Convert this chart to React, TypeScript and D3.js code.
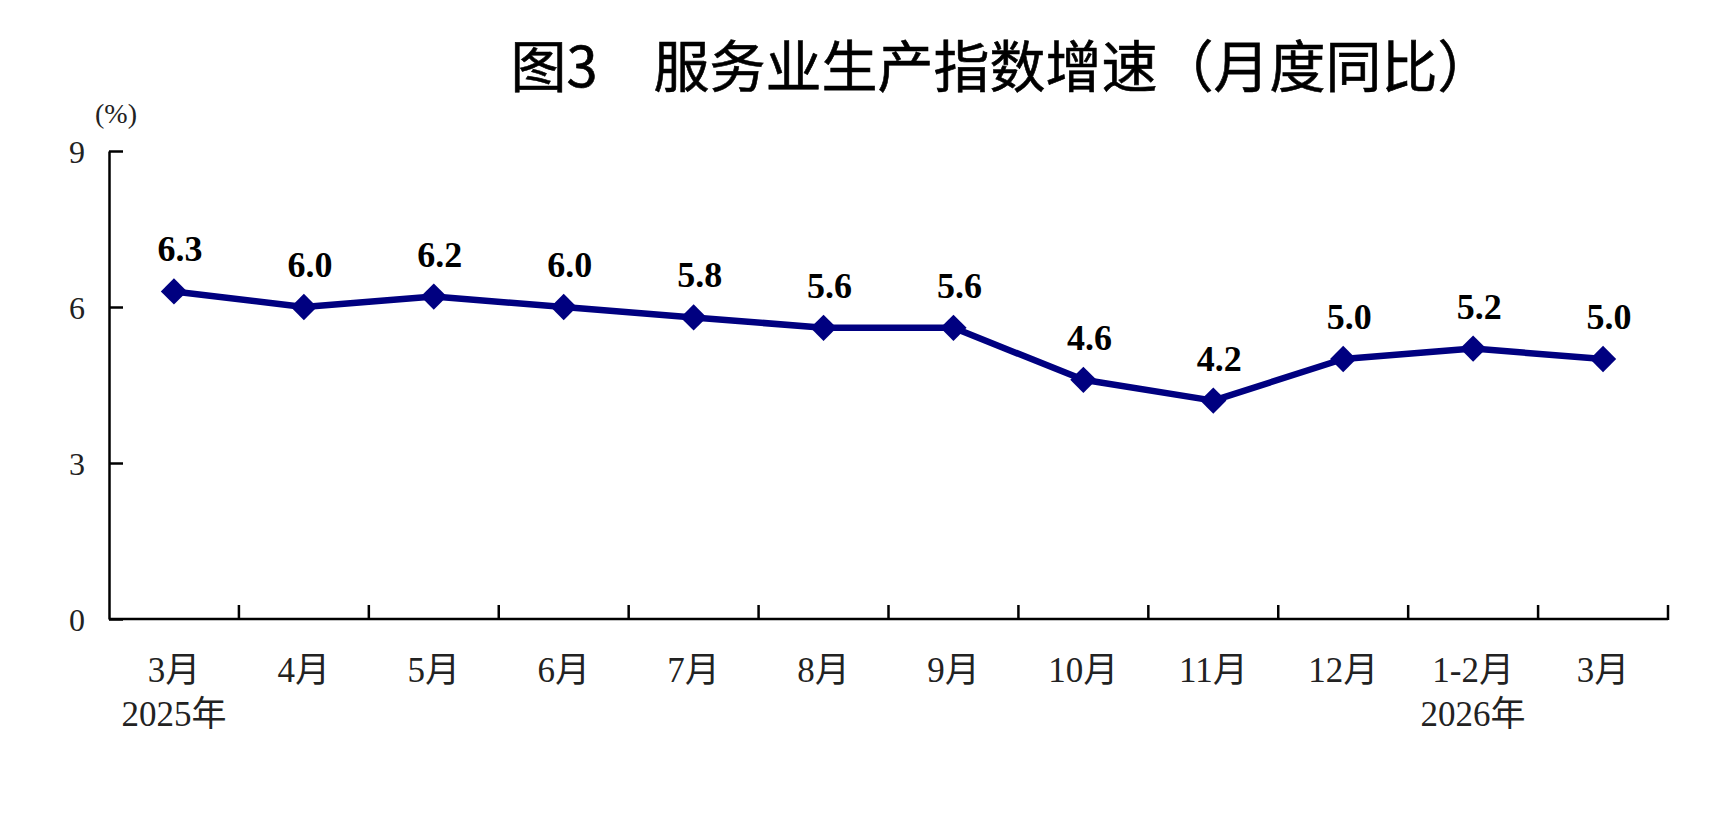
import { useEffect, useRef } from "react";
import * as d3 from "d3";

// 服务业生产指数增速（月度同比），%
const months = ["3月", "4月", "5月", "6月", "7月", "8月", "9月", "10月", "11月", "12月", "1-2月", "3月"];
const growth = [6.3, 6.0, 6.2, 6.0, 5.8, 5.6, 5.6, 4.6, 4.2, 5.0, 5.2, 5.0];
const yearIndex = [0, 10];
const yearLabels = ["2025年", "2026年"];
const yTicks = [0, 3, 6, 9];

const W = 1716;
const H = 832;
const serif = "'Liberation Serif', 'Times New Roman', 'Noto Sans CJK SC', serif";

export default function App() {
  const chartRef = useRef<SVGSVGElement>(null);

  useEffect(() => {
    const margin = { top: 151, right: 48, bottom: 213, left: 109 };
    const x0 = margin.left;
    const x1 = W - margin.right;
    const y0 = H - margin.bottom;

    const svg = d3.select(chartRef.current);
    svg.selectAll("*").remove();

    const x = d3.scaleBand<number>().domain(d3.range(months.length)).range([x0, x1]).padding(0);
    const y = d3.scaleLinear().domain([0, 9]).range([y0, margin.top]);

    // title
    svg
      .append("text")
      .attr("x", 1002)
      .attr("y", 87)
      .attr("text-anchor", "middle")
      .attr("font-family", "'Noto Sans CJK SC', sans-serif")
      .attr("font-size", 56)
      .attr("fill", "#000")
      .attr("stroke", "#000")
      .attr("stroke-width", 0.6)
      .text("图3　服务业生产指数增速（月度同比）");

    // unit
    svg
      .append("text")
      .attr("x", 116)
      .attr("y", 123)
      .attr("text-anchor", "middle")
      .attr("font-family", serif)
      .attr("font-size", 28)
      .attr("fill", "#222")
      .text("(%)");

    // y axis
    const yAxis = svg
      .append("g")
      .attr("transform", `translate(${x0},0)`)
      .call(d3.axisLeft(y).tickValues(yTicks).tickSizeInner(-14).tickSizeOuter(0).tickPadding(24));
    yAxis.select(".domain").attr("stroke", "#000").attr("stroke-width", 2.5);
    yAxis.selectAll(".tick line").attr("stroke", "#000").attr("stroke-width", 2.5);
    yAxis
      .selectAll(".tick text")
      .attr("font-family", serif)
      .attr("font-size", 32)
      .attr("fill", "#222")
      .attr("dy", "0.35em");

    // x axis line and ticks at band edges
    svg
      .append("line")
      .attr("x1", x0)
      .attr("x2", x1)
      .attr("y1", y0)
      .attr("y2", y0)
      .attr("stroke", "#000")
      .attr("stroke-width", 2.5);
    svg
      .append("g")
      .selectAll("line")
      .data(d3.range(1, months.length + 1))
      .enter()
      .append("line")
      .attr("x1", (i) => x0 + i * x.bandwidth())
      .attr("x2", (i) => x0 + i * x.bandwidth())
      .attr("y1", y0 + 1)
      .attr("y2", y0 - 14)
      .attr("stroke", "#000")
      .attr("stroke-width", 2.5);

    // category labels
    svg
      .append("g")
      .selectAll("text")
      .data(months)
      .enter()
      .append("text")
      .attr("x", (d, i) => (x(i) ?? 0) + x.bandwidth() / 2)
      .attr("y", y0 + 63)
      .attr("text-anchor", "middle")
      .attr("font-family", serif)
      .attr("font-size", 35)
      .attr("fill", "#222")
      .text((d) => d);

    svg
      .append("g")
      .selectAll("text")
      .data(yearLabels)
      .enter()
      .append("text")
      .attr("x", (d, i) => (x(yearIndex[i]) ?? 0) + x.bandwidth() / 2)
      .attr("y", y0 + 107)
      .attr("text-anchor", "middle")
      .attr("font-family", serif)
      .attr("font-size", 35)
      .attr("fill", "#222")
      .text((d) => d);

    // line
    const cx = (i: number) => (x(i) ?? 0) + x.bandwidth() / 2;
    const line = d3
      .line<number>()
      .x((d, i) => cx(i))
      .y((d) => y(d));

    svg
      .append("path")
      .datum(growth)
      .attr("d", line)
      .attr("fill", "none")
      .attr("stroke", "#000080")
      .attr("stroke-width", 6.5)
      .attr("stroke-linejoin", "round");

    // diamond markers
    const diamond = d3.symbol().type(d3.symbolDiamond2).size(440);
    svg
      .append("g")
      .selectAll("path")
      .data(growth)
      .enter()
      .append("path")
      .attr("d", diamond)
      .attr("transform", (d, i) => `translate(${cx(i)},${y(d)})`)
      .attr("fill", "#000080");

    // value labels
    svg
      .append("g")
      .selectAll("text")
      .data(growth)
      .enter()
      .append("text")
      .attr("x", (d, i) => cx(i) + 6)
      .attr("y", (d) => y(d) - 30)
      .attr("text-anchor", "middle")
      .attr("font-family", serif)
      .attr("font-weight", "bold")
      .attr("font-size", 36)
      .attr("fill", "#000")
      .text((d) => d.toFixed(1));
  }, []);

  return (
    <svg
      ref={chartRef}
      width={W}
      height={H}
      style={{ position: "absolute", left: 0, top: 0, background: "#fff" }}
    />
  );
}
